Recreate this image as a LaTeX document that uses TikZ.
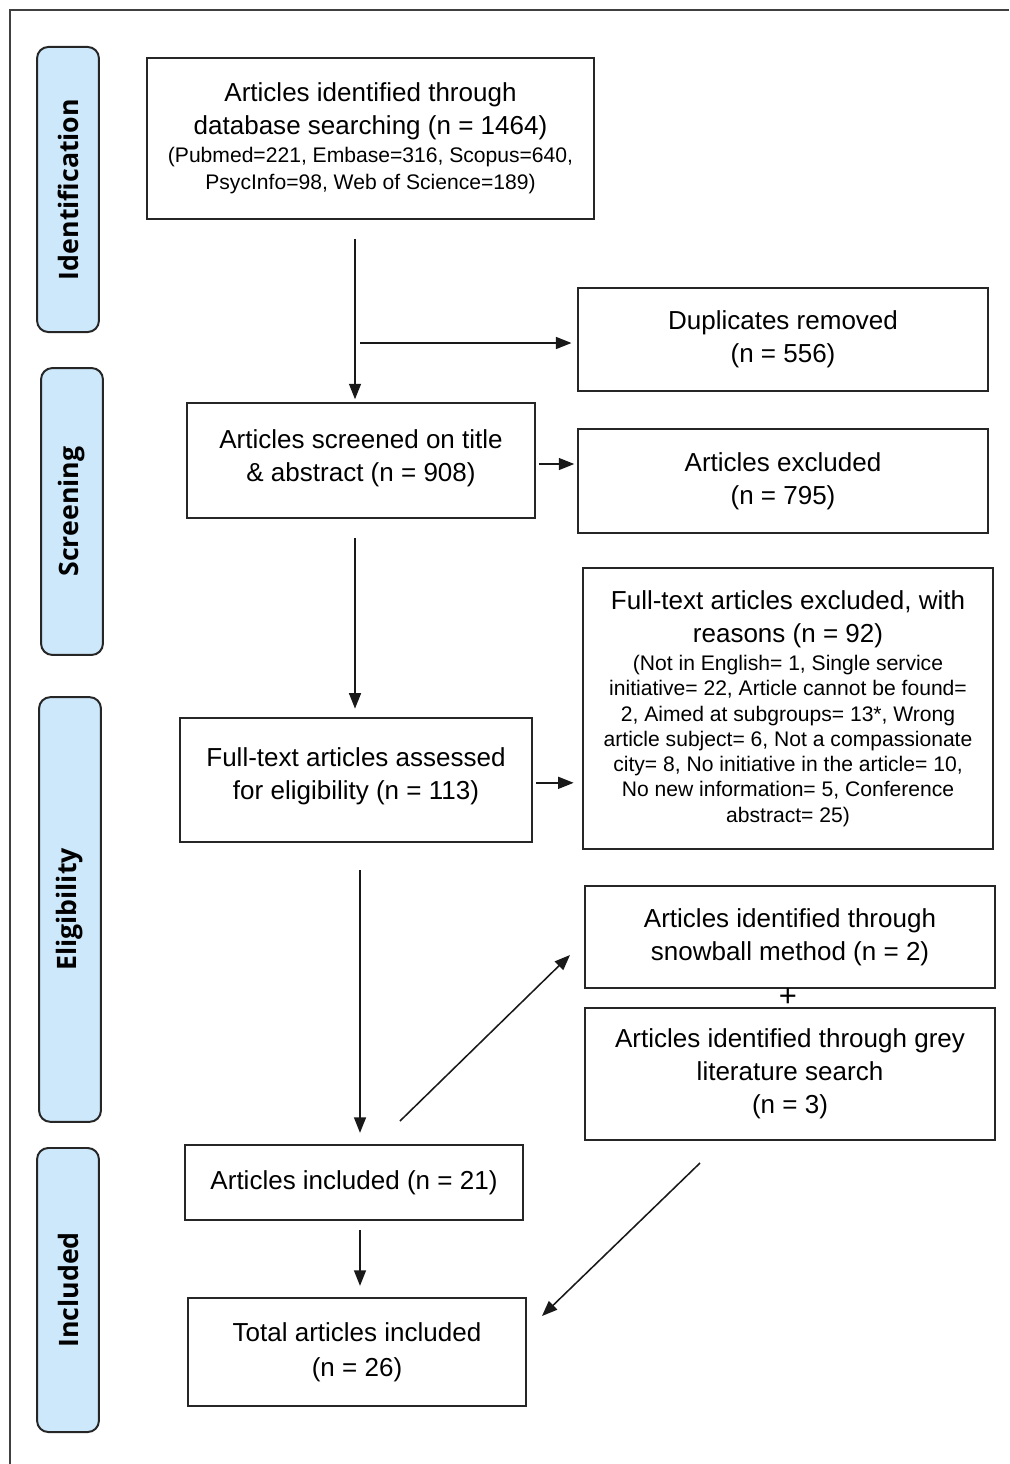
\documentclass[tikz,border=0pt]{standalone}
\usepackage{fontspec}
\setmainfont{Liberation Sans}
\newfontfamily\stagefont{Open Sans}
\usetikzlibrary{arrows.meta,positioning}
\definecolor{stageblue}{RGB}{204,232,250}
\newcommand\smalltext{\fontsize{15}{18}\selectfont}
\tikzset{stage/.style={rectangle,rounded corners=8pt,draw=black!85,line width=1.4pt,
fill=stageblue,rotate=90,minimum width=#1,minimum height=44pt,inner sep=0pt,
font=\stagefont\bfseries\fontsize{19}{22}\selectfont},
box/.style={rectangle,draw=black!85,line width=1.3pt,align=center,inner sep=0pt,
font=\fontsize{18.5}{23.5}\selectfont},
flow/.style={-{Triangle[length=11pt,width=8.5pt]},line width=1.1pt,black!90},
frame/.style={line width=1.4pt,black!75}}

\begin{document}
\begin{tikzpicture}[x=0.025cm,y=-0.025cm]
  \useasboundingbox (0,0) rectangle (1009,1464);
  \draw [frame] (1009,10) -- (10,10) -- (10,1464);

  % stages
  \node (sident) [stage=202.7pt] at (68,189.5) {Identification};
  \node (sscreen) [stage=204pt] at (72,511.5) {Screening};
  \node (selig) [stage=302pt] at (70,909.5) {Eligibility};
  \node (sincl) [stage=202pt] at (68,1290) {Included};

  % main column
  \node (ident) [box,minimum width=318pt,minimum height=114.5pt] at (370.5,138.5)
    {Articles identified through\\database searching (n = 1464)\\[-3.5pt]
     \smalltext (Pubmed=221, Embase=316, Scopus=640,\\[-4.5pt]
     \smalltext PsycInfo=98, Web of Science=189)};
  \node (screened) [box,minimum width=247.5pt,minimum height=81.8pt] at (361,460.5)
    {Articles screened on title\\\& abstract (n = 908)\\[-17pt]\mbox{}};
  \node (fulltext) [box,minimum width=250.4pt,minimum height=88.2pt] at (356,780)
    {Full-text articles assessed\\for eligibility (n = 113)\\[-15pt]\mbox{}};
  \node (included) [box,minimum width=240.4pt,minimum height=53.3pt] at (354,1182.5)
    {Articles included (n = 21)};
  \node (total) [box,minimum width=240.4pt,minimum height=76.8pt] at (357,1352)
    {Total articles included\\[1.5pt](n = 26)};

  % right column
  \node (dup) [box,minimum width=291.6pt,minimum height=73.3pt] at (783,339.5)
    {Duplicates removed\\(n = 556)};
  \node (excl) [box,minimum width=291.6pt,minimum height=74pt] at (783,481)
    {Articles excluded\\(n = 795)};
  \node (ftexcl) [box,minimum width=291.6pt,minimum height=199.9pt] at (788,708.5)
    {Full-text articles excluded, with\\reasons (n = 92)\\[-3.5pt]
     \smalltext (Not in English= 1, Single service\\[-5.5pt]
     \smalltext initiative= 22, Article cannot be found=\\[-5.5pt]
     \smalltext 2, Aimed at subgroups= 13*, Wrong\\[-5.5pt]
     \smalltext article subject= 6, Not a compassionate\\[-5.5pt]
     \smalltext city= 8, No initiative in the article= 10,\\[-5.5pt]
     \smalltext No new information= 5, Conference\\[-5.5pt]
     \smalltext abstract= 25)};
  \node (snowball) [box,minimum width=291.6pt,minimum height=72.6pt] at (790,937)
    {Articles identified through\\snowball method (n = 2)};
  \node (grey) [box,minimum width=291.6pt,minimum height=93.9pt] at (790,1074)
    {Articles identified through grey\\literature search\\(n = 3)};
  \node (plus) [inner sep=0pt,font=\fontsize{22}{22}\selectfont] at (788,998) {+};

  % connectors
  \coordinate (a1) at (355,239);
  \coordinate (a2) at (360,343);
  \coordinate (a3) at (355,538);
  \coordinate (a4) at (360,870);
  \coordinate (a5) at (400,1121);
  \coordinate (a6) at (570,955);
  \coordinate (a7) at (700,1163);
  \coordinate (a8) at (542,1316);
  \coordinate (a9) at (360,1230);
  \draw [flow,shorten >=2pt] (a1) -- (a1 |- screened.north);
  \draw [flow,shorten >=4pt] (a2) -- (a2 -| dup.west);
  \draw [flow,shorten <=2pt,shorten >=2pt] ([yshift=-2.5pt]screened.east)
    -- ([yshift=-2.5pt]screened.east -| excl.west);
  \draw [flow,shorten >=6pt] (a3) -- (a3 |- fulltext.north);
  \draw [flow,shorten <=2pt,shorten >=6pt] ([yshift=-2pt]fulltext.east)
    -- ([yshift=-2pt]fulltext.east -| ftexcl.west);
  \draw [flow,shorten >=8pt] (a4) -- (a4 |- included.north);
  \draw [flow] (a5) -- (a6);
  \draw [flow] (a7) -- (a8);
  \draw [flow,shorten >=8pt] (a9) -- (a9 |- total.north);
\end{tikzpicture}
\end{document}
